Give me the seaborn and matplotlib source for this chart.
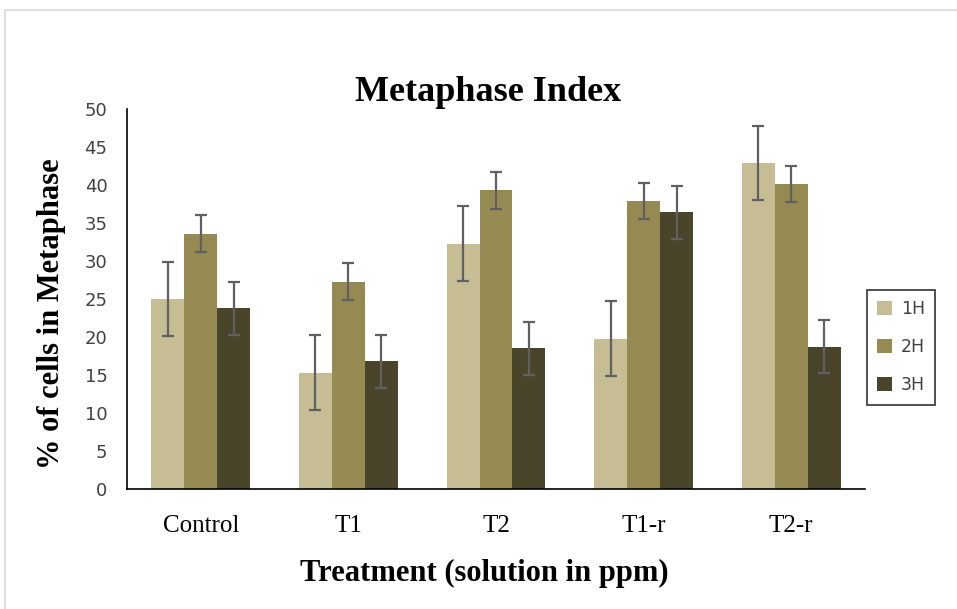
import numpy as np
import pandas as pd
import matplotlib
matplotlib.use("Agg")
import matplotlib.pyplot as plt
import seaborn as sns
from matplotlib.patches import Rectangle

# data
treatments = ["Control", "T1", "T2", "T1-r", "T2-r"]
hours = ["1H", "2H", "3H"]
h1 = [25.0, 15.3, 32.3, 19.8, 42.9]
h2 = [33.6, 27.3, 39.3, 37.9, 40.1]
h3 = [23.8, 16.8, 18.5, 36.4, 18.7]
err = [4.9, 2.4, 3.5]  # one fixed error per series

colors = ["#C6BD95", "#958A52", "#4A442B"]

df = pd.DataFrame({
    "Treatment": treatments * 3,
    "Hour": np.repeat(hours, len(treatments)),
    "Value": h1 + h2 + h3,
})

sns.set_style("white")
fig = plt.figure(figsize=(9.57, 6.09), dpi=100)
ax = fig.add_axes([127 / 957, 1 - 489 / 609, (865 - 127) / 957, (489 - 109) / 609])

sns.barplot(data=df, x="Treatment", y="Value", hue="Hour", palette=colors,
            errorbar=None, width=0.67, saturation=1, ax=ax, edgecolor="none")

# error bars on each bar
for cont, e in zip(ax.containers, err):
    xs = [p.get_x() + p.get_width() / 2 for p in cont.patches]
    ys = [p.get_height() for p in cont.patches]
    ax.errorbar(xs, ys, yerr=e, fmt="none", ecolor="#606060", elinewidth=1.6,
                capsize=4, capthick=1.6)

ax.set_xlim(-0.5, 4.5)
ax.set_ylim(0, 50)
ax.set_yticks(range(0, 51, 5))
ax.tick_params(axis="both", length=0)
ax.tick_params(axis="y", labelsize=13, labelcolor="#404040", pad=14)
ax.tick_params(axis="x", pad=19, labelcolor="black")
for lab in ax.get_yticklabels():
    lab.set_family("DejaVu Sans")
for lab in ax.get_xticklabels():
    lab.set_family("Liberation Serif")
    lab.set_fontsize(18)

for s in ["top", "right"]:
    ax.spines[s].set_visible(False)
for s in ["left", "bottom"]:
    ax.spines[s].set_color("black")
    ax.spines[s].set_linewidth(1.2)

ax.set_title("Metaphase Index", fontfamily="Liberation Serif", fontweight="bold",
             fontsize=26, pad=6, x=0.489, color="black")
ax.set_xlabel("Treatment (solution in ppm)", fontfamily="Liberation Serif",
              fontweight="bold", fontsize=22, labelpad=15, color="black")
ax.xaxis.set_label_coords(0.484, -0.185)
ax.set_ylabel("% of cells in Metaphase", fontfamily="Liberation Serif",
              fontweight="bold", fontsize=22, color="black")
ax.yaxis.set_label_coords(-0.083, 0.461)

leg = ax.legend(title=None, loc="upper left", bbox_to_anchor=(867 / 957, 1 - 290 / 609),
                bbox_transform=fig.transFigure, borderaxespad=0, frameon=True,
                fancybox=False, prop={"family": "DejaVu Sans", "size": 12.5},
                handlelength=0.85, handleheight=0.85, labelspacing=1.15,
                borderpad=0.6, handletextpad=0.5)
leg.get_frame().set_edgecolor("black")
leg.get_frame().set_linewidth(1.2)
for t in leg.get_texts():
    t.set_color("#404040")

# light grey frame around the chart
fig.patches.append(Rectangle((5 / 957, -0.05), 1.1, 1 - 10 / 609 + 0.05,
                             transform=fig.transFigure, fill=False,
                             edgecolor="#d9d9d9", linewidth=1.2))

fig.savefig("out.png", dpi=100)
